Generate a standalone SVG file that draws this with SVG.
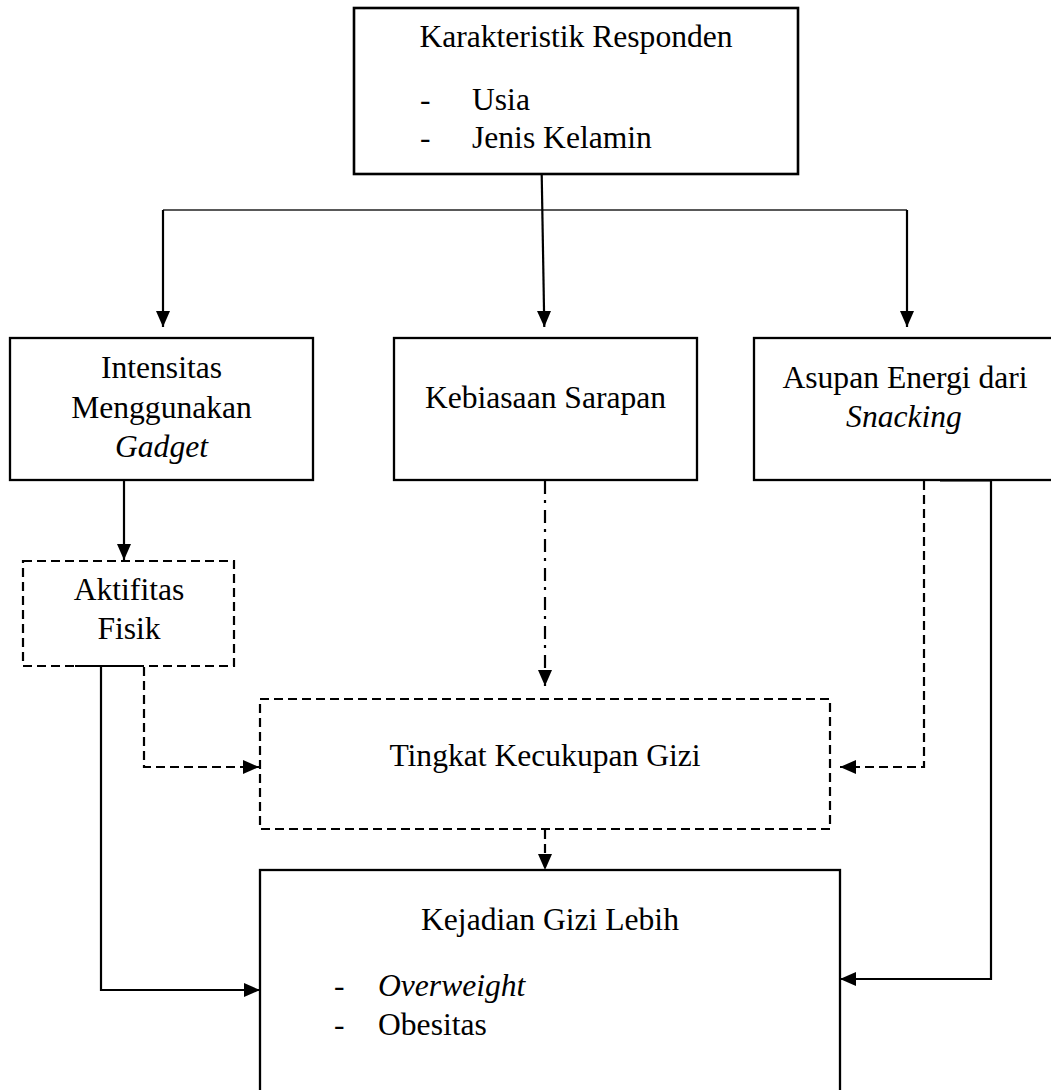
<svg xmlns="http://www.w3.org/2000/svg" width="1051" height="1090" viewBox="0 0 1051 1090">
<style>
text{font-family:"Liberation Serif","Times New Roman",serif;font-size:31.6px;fill:#000}
.c{text-anchor:middle}
.i{font-style:italic}
.box{fill:#fff;stroke:#000;stroke-width:2.3}
.dbox{fill:none;stroke:#000;stroke-width:2.2;stroke-dasharray:9 5}
.ln{fill:none;stroke:#000;stroke-width:2.2}
.thin{fill:none;stroke:#222;stroke-width:1.3}
.dl{fill:none;stroke:#000;stroke-width:2.2;stroke-dasharray:9 5}
.dd{fill:none;stroke:#000;stroke-width:2.2;stroke-dasharray:13 6 3 7}
</style>
<defs>
<marker id="ah" markerUnits="userSpaceOnUse" markerWidth="17" markerHeight="15" refX="16" refY="7" orient="auto">
<path d="M0,0 L16,7 L0,14 z" fill="#000"/>
</marker>
</defs>
<rect width="1051" height="1090" fill="#fff"/>
<g id="connectors">
<line class="thin" x1="163" y1="210" x2="907" y2="210"/>
<line class="ln" x1="163" y1="210" x2="163" y2="327" marker-end="url(#ah)"/>
<line class="ln" x1="907" y1="210" x2="907" y2="327" marker-end="url(#ah)"/>
<line class="ln" x1="541.7" y1="174" x2="544.3" y2="327" marker-end="url(#ah)"/>
<line class="ln" x1="124" y1="480" x2="124" y2="560" marker-end="url(#ah)"/>
<path class="dd" d="M545,481 L545,686" marker-end="url(#ah)"/>
<path class="dl" d="M144,667 L144,767 L259,767" marker-end="url(#ah)"/>
<path class="ln" d="M101,666 L101,990 L260,990" marker-end="url(#ah)"/>
<line class="ln" x1="75" y1="666" x2="140" y2="666"/>
<path class="dl" d="M924,481 L924,767 L840,767" marker-end="url(#ah)"/>
<path class="ln" d="M991,480 L991,979 L840,979" marker-end="url(#ah)"/>
<line class="ln" x1="940" y1="480" x2="991" y2="480" style="stroke-width:3"/>
<path class="dl" d="M545,830 L545,870" marker-end="url(#ah)"/>
</g>
<g id="karakteristik">
<rect class="box" x="354" y="8" width="444" height="166" style="stroke-width:2.6"/>
<text class="c" x="576" y="47">Karakteristik Responden</text>
<text x="420" y="110">-</text>
<text x="472" y="110">Usia</text>
<text x="420" y="148">-</text>
<text x="472" y="148">Jenis Kelamin</text>
</g>
<g id="intensitas">
<rect class="box" x="10" y="338" width="303" height="142"/>
<text class="c" x="161.5" y="378">Intensitas</text>
<text class="c" x="161.5" y="418">Menggunakan</text>
<text class="c i" x="161.5" y="457">Gadget</text>
</g>
<g id="kebiasaan">
<rect class="box" x="394" y="338" width="303" height="142"/>
<text class="c" x="545.5" y="408">Kebiasaan Sarapan</text>
</g>
<g id="asupan">
<rect class="box" x="754" y="338" width="310" height="142"/>
<text class="c" x="905" y="388">Asupan Energi dari</text>
<text class="c i" x="904" y="427">Snacking</text>
</g>
<g id="aktifitas">
<rect class="dbox" x="23" y="561" width="211" height="105"/>
<text class="c" x="129" y="600">Aktifitas</text>
<text class="c" x="129" y="639">Fisik</text>
</g>
<g id="tingkat">
<rect class="dbox" x="260" y="699" width="570" height="130"/>
<text class="c" x="545" y="766">Tingkat Kecukupan Gizi</text>
</g>
<g id="kejadian">
<rect class="box" x="260" y="870" width="580" height="240"/>
<text class="c" x="550" y="930">Kejadian Gizi Lebih</text>
<text x="334" y="996">-</text>
<text class="i" x="378" y="996">Overweight</text>
<text x="334" y="1035">-</text>
<text x="378" y="1035">Obesitas</text>
</g>
</svg>
